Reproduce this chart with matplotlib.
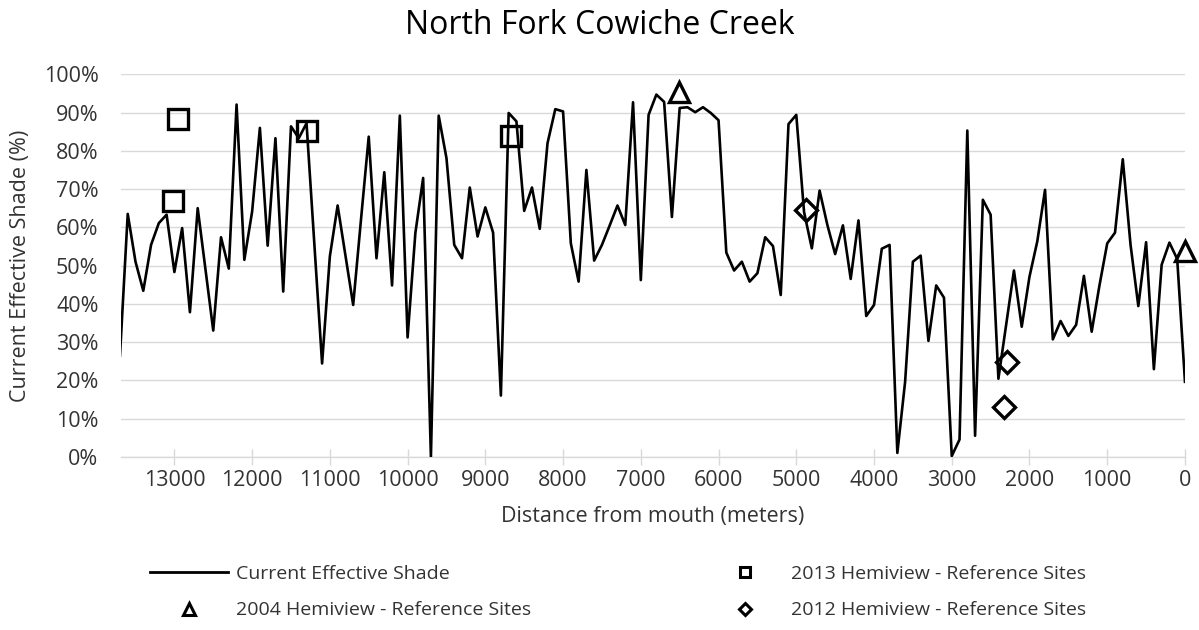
import matplotlib
matplotlib.use("Agg")
import matplotlib.pyplot as plt
from matplotlib.lines import Line2D
from matplotlib.ticker import PercentFormatter

plt.rcParams['font.family'] = ['Open Sans', 'DejaVu Sans']

# distance from mouth (m), one shade value every 100 m
distance_m = list(range(13700, -1, -100))

# current effective shade (%)
shade = [
    26.4, 63.5, 51.0, 43.4, 55.4, 61.1, 63.3, 48.3, 59.8, 37.8,
    65.0, 49.0, 33.0, 57.4, 49.2, 92.1, 51.5, 64.1, 86.0, 55.2,
    83.3, 43.2, 86.4, 83.3, 87.2, 55.9, 24.4, 52.4, 65.7, 52.7,
    39.7, 61.9, 83.7, 51.9, 74.4, 44.8, 89.2, 31.2, 58.5, 72.9,
    0.0, 89.2, 78.1, 55.4, 51.9, 70.4, 57.6, 65.2, 58.6, 16.0,
    89.9, 87.7, 64.3, 70.4, 59.6, 82.0, 90.9, 90.3, 55.8, 45.8,
    75.0, 51.3, 55.4, 60.5, 65.7, 60.6, 92.7, 46.2, 89.4, 94.7,
    92.8, 62.7, 91.2, 91.4, 90.1, 91.4, 89.9, 88.0, 53.4, 48.7,
    51.0, 45.8, 48.0, 57.4, 55.1, 42.3, 87.0, 89.4, 64.0, 54.5,
    69.6, 60.6, 53.0, 60.5, 46.5, 61.8, 36.8, 39.7, 54.4, 55.4,
    1.0, 19.6, 51.0, 52.6, 30.3, 44.8, 41.6, 0.2, 4.5, 85.3,
    5.5, 67.2, 63.3, 20.4, 34.5, 48.7, 34.0, 47.1, 56.3, 69.8,
    30.7, 35.5, 31.6, 34.5, 47.3, 32.7, 44.8, 55.8, 58.6, 77.8,
    55.4, 39.4, 56.1, 22.9, 50.2, 56.0, 51.7, 19.6,
]

# reference sites
hemi2013_dist = [12950, 13020, 11290, 8670]
hemi2013_shade = [88.4, 67.0, 85.1, 84.0]

hemi2004_dist = [6510, 0]
hemi2004_shade = [95.4, 53.9]

hemi2012_dist = [4870, 2290, 2330]
hemi2012_shade = [64.5, 24.8, 12.9]

grid_gray = '#d9d9d9'
text_col = '#333333'

fig = plt.figure(figsize=(11.99, 6.30), dpi=100)
ax = fig.add_axes([0.1007, 0.275, 0.8876, 0.607])

ax.plot(distance_m, shade, color='black', lw=1.9, zorder=3)
ax.plot(hemi2013_dist, hemi2013_shade, ls='none', marker='s', ms=14,
        mfc='none', mec='black', mew=2.4, zorder=4)
ax.plot(hemi2004_dist, hemi2004_shade, ls='none', marker='^', ms=15,
        mfc='none', mec='black', mew=2.4, zorder=4, clip_on=False)
ax.plot(hemi2012_dist, hemi2012_shade, ls='none', marker='D', ms=11,
        mfc='none', mec='black', mew=2.4, zorder=4)

ax.set_xlim(13690, 0)
ax.set_ylim(0, 100)
ax.set_xticks(range(13000, -1, -1000))
ax.set_yticks(range(0, 101, 10))
ax.yaxis.set_major_formatter(PercentFormatter(decimals=0))

ax.grid(axis='y', color=grid_gray, lw=1.0)
ax.set_axisbelow(True)
for s in ['top', 'right', 'left']:
    ax.spines[s].set_visible(False)
ax.spines['bottom'].set_color(grid_gray)
ax.spines['bottom'].set_linewidth(1.0)

ax.tick_params(axis='x', direction='inout', length=11, width=1.0,
               color=grid_gray, labelsize=15.5, labelcolor=text_col, pad=4)
ax.tick_params(axis='y', length=0, labelsize=15.5, labelcolor=text_col, pad=16)

ax.set_xlabel('Distance from mouth (meters)', fontsize=15.5, color=text_col,
              labelpad=11)
ax.set_ylabel('Current Effective Shade (%)', fontsize=15.5, color=text_col,
              labelpad=9)
fig.suptitle('North Fork Cowiche Creek', fontsize=23, color='black', y=0.985)

handles = [
    Line2D([], [], color='black', lw=2),
    Line2D([], [], ls='none', marker='^', ms=8, mfc='none', mec='black', mew=2.2),
    Line2D([], [], ls='none', marker='s', ms=7, mfc='none', mec='black', mew=2.2),
    Line2D([], [], ls='none', marker='D', ms=6, mfc='none', mec='black', mew=2.2),
]
labels = [
    'Current Effective Shade',
    '2004 Hemiview - Reference Sites',
    '2013 Hemiview - Reference Sites',
    '2012 Hemiview - Reference Sites',
]
fig.legend(handles, labels, ncol=2, loc='upper left',
           bbox_to_anchor=(150 / 1199, 1 - 565 / 630), frameon=False,
           fontsize=14, labelcolor=text_col, handlelength=4.0,
           handletextpad=0.4, columnspacing=9.0, labelspacing=0.95,
           borderpad=0, borderaxespad=0)

fig.savefig('out.png', dpi=100)
